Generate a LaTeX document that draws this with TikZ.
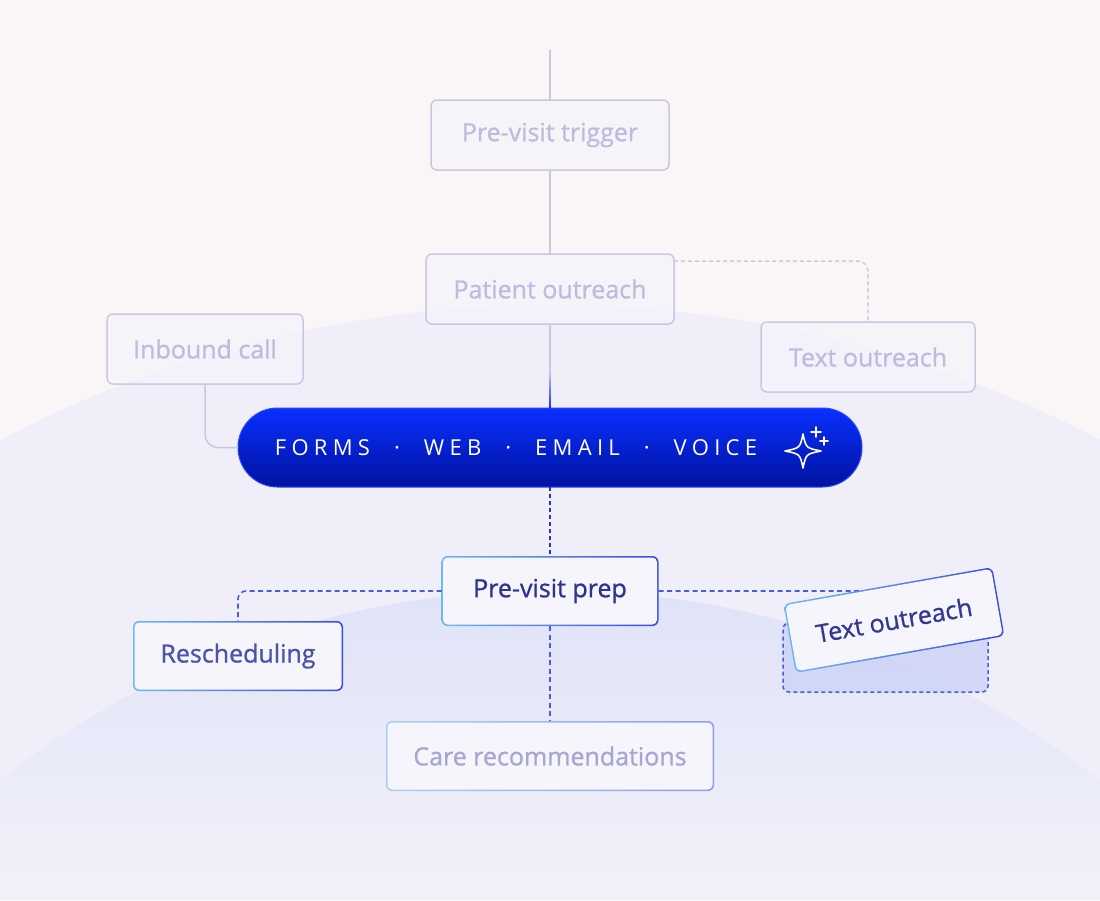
\documentclass[tikz,border=0pt]{standalone}
\usepackage{fontspec}
\setmainfont{Open Sans}
\usetikzlibrary{positioning}

\definecolor{paper}{HTML}{FAF6F8}
\definecolor{haloA}{HTML}{EFEEF9}
\definecolor{haloB}{HTML}{DCE0F8}
\definecolor{haloC}{HTML}{F2F1F9}
\definecolor{fadeline}{HTML}{C9C7E3}
\definecolor{fadetext}{HTML}{BDBCDD}
\definecolor{fadefill}{HTML}{F6F4FA}
\definecolor{cardfill}{HTML}{F6F5FB}
\definecolor{rimL}{HTML}{6DB8F6}
\definecolor{rimR}{HTML}{3A4BDF}
\definecolor{rimpaleL}{HTML}{AAD1F8}
\definecolor{rimpaleR}{HTML}{909EEB}
\definecolor{inktext}{HTML}{2E3390}
\definecolor{midtext}{HTML}{4D53AA}
\definecolor{paletext}{HTML}{A7A7D3}
\definecolor{dashblue}{HTML}{4B5CDB}
\definecolor{dotblue}{HTML}{2233B8}
\definecolor{pillTop}{HTML}{0A2FFF}
\definecolor{pillBot}{HTML}{0013A0}
\definecolor{pillRim}{HTML}{2A48FF}
\definecolor{echofill}{HTML}{CDD3F7}

\newcommand{\cardfont}{\fontsize{25}{29}\selectfont\addfontfeature{FakeBold=1}}
\newcommand{\chanfont}{\fontsize{22}{26}\selectfont\addfontfeature{LetterSpace=24}}

\tikzstyle{faded}=[draw=fadeline,line width=1.5pt,fill=fadefill,fill opacity=0.6,text opacity=1,rounded corners=6pt,minimum height=70pt,inner sep=0pt,outer sep=0pt,text=fadetext,font=\cardfont]
\tikzstyle{rim}=[rounded corners=6pt,minimum height=70pt,inner sep=0pt,outer sep=0pt]
\tikzstyle{core}=[fill=cardfill,rounded corners=4.6pt,minimum height=67pt,inner sep=0pt,outer sep=0pt,font=\cardfont]
\tikzstyle{pill}=[top color=pillTop,bottom color=pillBot,draw=pillRim,line width=1pt,rounded corners=39.5pt,minimum width=624pt,minimum height=79pt,inner sep=0pt,outer sep=0pt]
\tikzstyle{echo}=[draw=dashblue,fill=echofill,fill opacity=0.8,line width=1.5pt,dash pattern=on 4pt off 3pt,rounded corners=6pt,minimum width=205pt,minimum height=69pt,outer sep=0pt]
\tikzstyle{fadewire}=[draw=fadeline,line width=1.5pt]
\tikzstyle{fadedash}=[draw=fadeline,line width=1.5pt,dash pattern=on 4pt off 3pt]
\tikzstyle{bluedash}=[draw=dashblue,line width=1.6pt,dash pattern=on 5pt off 3.5pt]
\tikzstyle{bluedot}=[draw=dotblue,line width=1.6pt,dash pattern=on 3.5pt off 3.5pt]

\newcommand{\fadecard}[4]{\node[faded,minimum width=#3,#2] (#1) {#4};}
\newcommand{\litcard}[8]{%
  \node[rim,left color=#5,right color=#6,minimum width=#4,rotate=#3,#2] (#1) {};
  \node[core,text=#7,minimum width=#4-3pt,rotate=#3] (#1t) at (#1.center) {#8};}

\begin{document}
\begin{tikzpicture}[x=1pt,y=-1pt]
    % backdrop and the two halos
    \fill[paper] (0,0) rectangle (1100,900);
    \useasboundingbox (0,0) rectangle (1100,900);
    \fill[haloA] (0,440) arc[start angle=-117.6,end angle=-62.4,radius=1188] -- (1100,900) -- (0,900) -- cycle;
    \shade[top color=haloB,bottom color=haloC] (0,780) arc[start angle=-128.1,end angle=-51.9,radius=891] -- (1100,900) -- (0,900) -- cycle;

    % upper chain
    \fadecard{trig}{at={(550,135)}}{238pt}{Pre-visit trigger}
    \fadecard{po}{below=84pt of trig}{248pt}{Patient outreach}
    \fadecard{inb}{at={(205,349)}}{196pt}{Inbound call}
    \fadecard{txt}{at={(868,357)}}{214pt}{Text outreach}

    % channel bar
    \node[pill,below=84pt of po] (pill) {};
    \node[font=\chanfont,text=white,inner sep=0pt] (chan) at (516,448) {FORMS\hspace{24pt}·\hspace{24pt}WEB\hspace{24pt}·\hspace{24pt}EMAIL\hspace{24pt}·\hspace{24pt}VOICE};
    \begin{scope}[shift={(803,451)},draw=white,line width=1.6pt,line join=round,line cap=round]
        \draw (0,-17) .. controls (3,-3) .. (18,0) .. controls (3,3) .. (0,17) .. controls (-3,3) .. (-18,0) .. controls (-3,-3) .. cycle;
        \draw (13,-24) -- (13,-14) (8,-19) -- (18,-19);
        \draw (21,-14) -- (21,-6) (17,-10) -- (25,-10);
    \end{scope}

    % lower chain
    \litcard{prep}{below=69pt of pill}{0}{217pt}{rimL}{rimR}{inktext}{Pre-visit prep}
    \litcard{resch}{at={(238,656)}}{0}{210pt}{rimL}{rimR}{midtext}{Rescheduling}
    \litcard{care}{below=95pt of prep}{0}{328pt}{rimpaleL}{rimpaleR}{paletext}{Care recommendations}
    \node[echo] (echo) at (885.5,657.5) {};

    % connectors
    \coordinate (lead) at (550,50);
    \draw[fadewire] (lead) -- (trig);
    \draw[fadewire] (trig) -- (po);
    \draw[fadewire] (po) -- (pill);
    \shade[top color=fadeline,bottom color=pillTop] (549.25,372) rectangle (550.75,408);
    \draw[fadedash,rounded corners=10pt] ([yshift=28pt]po.east) -| (txt.north);
    \draw[fadewire,rounded corners=13pt] (inb.south) |- (pill.west);
    \draw[bluedot] (pill) -- (prep);
    \draw[bluedash,rounded corners=8pt] (prep.west) -| (resch.north);
    \draw[bluedash,rounded corners=8pt] (prep.east) -| (echo.north);
    \draw[bluedash] (prep) -- (care);

    % tilted card on top of its dashed slot
    \litcard{tilt}{at={(894,620)}}{10}{212pt}{rimL}{rimR}{inktext!85!midtext}{Text outreach}
\end{tikzpicture}
\end{document}
